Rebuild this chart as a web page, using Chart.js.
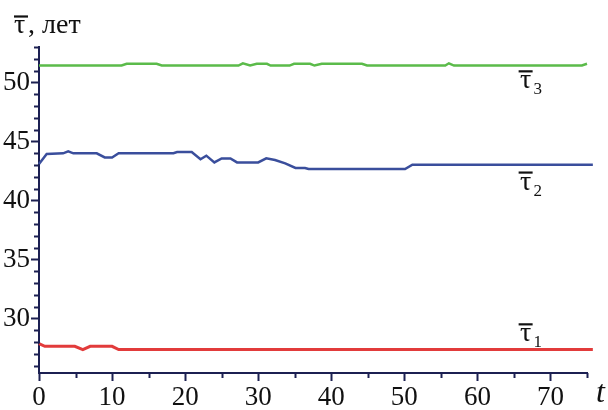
<!DOCTYPE html>
<html>
<head>
<meta charset="utf-8">
<script src="https://cdn.jsdelivr.net/npm/chart.js@4/dist/chart.umd.min.js"></script>
<style>
  html, body { margin: 0; padding: 0; background: #ffffff; }
  #wrap { width: 608px; height: 410px; position: relative; }
</style>
</head>
<body>
<div id="wrap"><canvas id="c" width="608" height="410"></canvas></div>
<script>
// ---- data ----
const tx1  = [0, 0.8, 4.9, 6.0, 7.0, 10.0, 10.9, 75.8];
const tau1 = [27.89, 27.66, 27.66, 27.38, 27.66, 27.66, 27.38, 27.38];

const tx2  = [0, 1.05, 3.3, 4.0, 4.7, 7.9, 9.0, 10.0, 10.9, 18.4, 18.9, 20.9, 22.1, 22.9, 24.0, 25.0, 26.2, 27.1, 30.0, 31.1, 32.3, 33.7, 35.1, 36.4, 36.9, 50.1, 51.1, 75.8];
const tau2 = [43.1, 43.95, 44.0, 44.16, 44.0, 44.0, 43.65, 43.65, 44.0, 44.0, 44.1, 44.1, 43.5, 43.8, 43.23, 43.57, 43.57, 43.23, 43.23, 43.57, 43.43, 43.15, 42.76, 42.76, 42.67, 42.67, 43.04, 43.04];

const tx3  = [0, 11.3, 12.0, 16.1, 16.8, 27.3, 27.9, 28.9, 29.8, 31.2, 31.7, 34.3, 34.9, 37.1, 37.7, 38.7, 44.2, 44.9, 55.6, 56.1, 56.8, 74.3, 75.0, 75.8];
const tau3 = [51.43, 51.43, 51.58, 51.58, 51.43, 51.43, 51.62, 51.43, 51.58, 51.58, 51.43, 51.43, 51.58, 51.58, 51.43, 51.58, 51.58, 51.43, 51.43, 51.62, 51.43, 51.43, 51.58, 51.58];

const seriesSubscripts = ['1', '2', '3'];
const xTickLabels = [0, 10, 20, 30, 40, 50, 60, 70];
const yTickLabels = [30, 35, 40, 45, 50];

// label anchor points (data units) for the curve names
const labelX = [66.6, 66.6, 66.6];
const labelY = [28.08, 40.93, 49.5];

const COLORS = ['#e23b3b', '#3a4e9c', '#5bbb4a'];
const AXIS = '#1c2052';
const SERIF = '"Liberation Serif", "DejaVu Serif", serif';

function pts(xs, ys) { return xs.map((x, i) => ({ x: x, y: ys[i] })); }

const annotate = {
  id: 'annotate',
  afterDraw(chart) {
    const ctx = chart.ctx;
    const xs = chart.scales.x, ys = chart.scales.y;
    ctx.save();
    // minor ticks
    ctx.strokeStyle = AXIS;
    ctx.lineWidth = 2;
    const ax = xs.left, ay = ys.bottom;
    for (let v = Math.ceil(ys.min); v <= Math.floor(ys.max); v++) {
      if (v % 5 === 0) continue;
      const py = Math.round(ys.getPixelForValue(v)) + 0.5;
      ctx.beginPath(); ctx.moveTo(ax - 5, py); ctx.lineTo(ax + 1, py); ctx.stroke();
    }
    for (let v = 5; v <= xs.max; v += 10) {
      const px = Math.round(xs.getPixelForValue(v)) + 0.5;
      ctx.beginPath(); ctx.moveTo(px, ay); ctx.lineTo(px, ay + 5); ctx.stroke();
    }
    // curve names: overlined tau with subscript
    ctx.fillStyle = '#111';
    for (let i = 0; i < 3; i++) {
      const px = xs.getPixelForValue(labelX[i]);
      const py = ys.getPixelForValue(labelY[i]);
      ctx.font = '28px ' + SERIF;
      ctx.textAlign = 'center';
      ctx.textBaseline = 'alphabetic';
      ctx.fillText('τ', px, py);
      ctx.lineWidth = 2.2;
      ctx.strokeStyle = '#111';
      ctx.beginPath(); ctx.moveTo(px - 7, py - 17); ctx.lineTo(px + 7, py - 17); ctx.stroke();
      ctx.font = '17px ' + SERIF;
      ctx.textAlign = 'left';
      ctx.fillText(seriesSubscripts[i], px + 8, py + 6);
    }
    // y-axis title
    ctx.font = '28px ' + SERIF;
    ctx.textAlign = 'left';
    ctx.fillText('τ', 14, 33);
    ctx.lineWidth = 2.2;
    ctx.beginPath(); ctx.moveTo(14, 16.5); ctx.lineTo(28, 16.5); ctx.stroke();
    ctx.fillText(', лет', 28, 33);
    // x-axis title
    ctx.font = 'italic 32px ' + SERIF;
    ctx.fillText('t', 596, 402);
    ctx.restore();
  }
};

new Chart(document.getElementById('c'), {
  type: 'line',
  data: {
    datasets: [
      { data: pts(tx1, tau1), borderColor: COLORS[0], borderWidth: 3 },
      { data: pts(tx2, tau2), borderColor: COLORS[1], borderWidth: 2.5 },
      { data: pts(tx3, tau3), borderColor: COLORS[2], borderWidth: 2.5 }
    ].map(d => Object.assign(d, { pointRadius: 0, tension: 0, fill: false, clip: false }))
  },
  options: {
    responsive: false,
    animation: false,
    layout: { padding: { top: 47, right: 21, left: 0, bottom: 0 } },
    plugins: { legend: { display: false }, tooltip: { enabled: false } },
    scales: {
      x: {
        type: 'linear', min: 0, max: 75,
        ticks: { stepSize: 10, color: '#111', font: { family: SERIF, size: 27 }, padding: 1, maxRotation: 0,
                 callback: v => String(v) },
        afterBuildTicks: a => { a.ticks = xTickLabels.map(v => ({ value: v })); },
        afterFit: s => { s.height = 37; },
        grid: { drawOnChartArea: false, tickLength: 8, tickColor: AXIS, tickWidth: 2 },
        border: { color: AXIS, width: 2 }
      },
      y: {
        type: 'linear', min: 25.4, max: 53,
        ticks: { stepSize: 5, color: '#111', font: { family: SERIF, size: 27 }, padding: 1 },
        afterBuildTicks: a => { a.ticks = yTickLabels.map(v => ({ value: v })); },
        afterFit: s => { s.width = 39; },
        grid: { drawOnChartArea: false, tickLength: 8, tickColor: AXIS, tickWidth: 2 },
        border: { color: AXIS, width: 2 }
      }
    }
  },
  plugins: [annotate]
});
</script>
</body>
</html>
